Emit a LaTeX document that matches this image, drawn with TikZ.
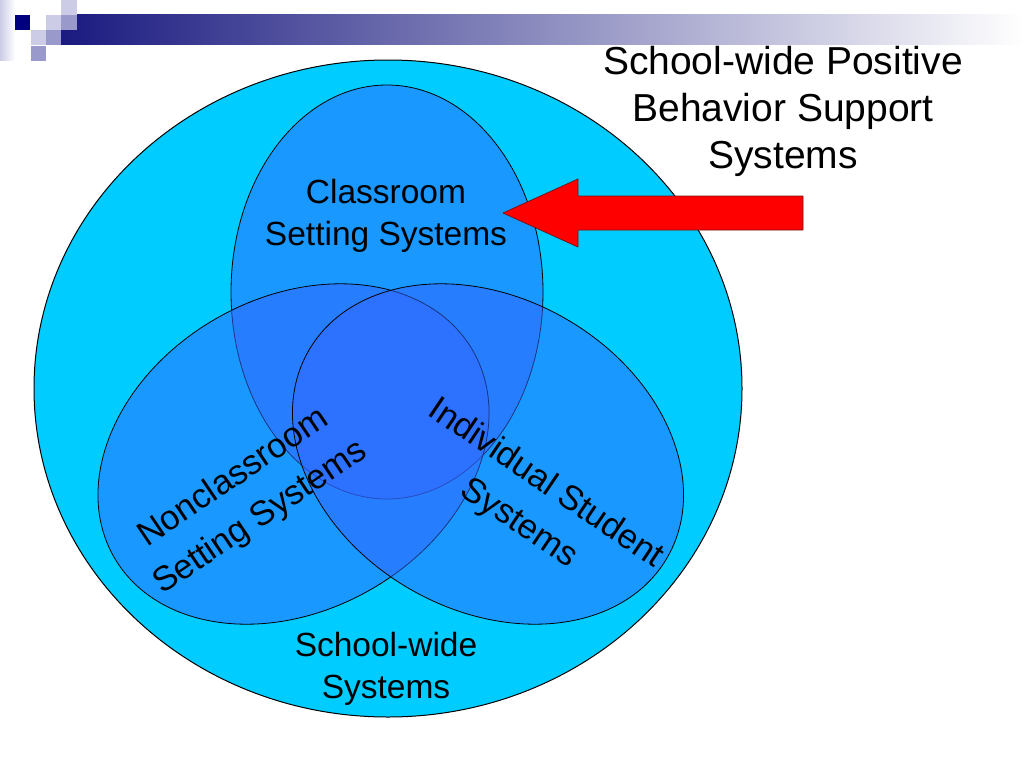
\documentclass[tikz,border=0pt]{standalone}
\usepackage{fontspec}
\setmainfont{Liberation Sans}

\definecolor{schoolcyan}{RGB}{0,204,255}
\definecolor{vennblue}{RGB}{51,102,255}
\definecolor{arrowedge}{RGB}{120,20,20}
\definecolor{tilenavy}{RGB}{0,0,128}
\definecolor{tilemid}{RGB}{153,153,204}
\definecolor{tilelight}{RGB}{204,204,230}
\definecolor{barnavy}{RGB}{26,26,128}

\begin{document}
\begin{tikzpicture}[x=1pt, y=-1pt, line cap=round, line join=round,
    venn/.style={fill=vennblue, fill opacity=0.5, draw=black, line width=0.8pt},
    systext/.style={font=\fontsize{33.5}{42}\selectfont, align=center, inner sep=0pt},
    tilttext/.style={font=\fontsize{34.5}{48}\selectfont, align=center, inner sep=0pt},
    titletext/.style={font=\fontsize{39}{47}\selectfont, align=center, inner sep=0pt}]

\useasboundingbox (0,0) rectangle (1024,768);
\fill[white] (0,0) rectangle (1024,768);

% Header bar and tiles
\shade[left color=barnavy, right color=white] (61,15) rectangle (1024,45);
\shade[left color=tilelight, right color=white] (0,0) rectangle (15,60);
\fill[tilenavy]  (15,15) rectangle ++(15,15);
\fill[tilelight] (31,30) rectangle ++(15,15);
\fill[tilemid]   (31,46) rectangle ++(15,15);
\fill[tilelight] (46,15) rectangle ++(15,15);
\fill[tilemid]   (46,30) rectangle ++(15,15);
\fill[tilelight] (61,0)  rectangle ++(16,15);
\fill[tilemid]   (61,15) rectangle ++(16,15);

% School-wide ------------------------------
\draw[fill=schoolcyan, line width=1pt] (388,388.5) ellipse (354 and 328.5);

% Three overlapping systems
\pgfmathsetmacro{\minorr}{156}
\pgfmathsetmacro{\majorr}{207}

\draw[venn] (387,292) ellipse ({\minorr} and {\majorr});
\draw[venn, rotate around={-60:(293.5,454)}] (293.5,454) ellipse ({\minorr} and {\majorr});
\draw[venn, rotate around={60:(488,454)}] (488,454) ellipse ({\minorr} and {\majorr});

% Labels
\node[systext] (classroom) at (386,216) {Classroom\\Setting Systems};
\node[tilttext, rotate=34] (nonclassroom) at (247,498) {Nonclassroom\\Setting Systems};
\node[tilttext, rotate=-34] (individual) at (532,504) {Individual Student\\Systems};
\node[systext] (schoolwide) at (386,669) {School-wide\\Systems};

% Arrow to classroom -----------------------
\draw[fill=red, draw=arrowedge, line width=0.8pt]
    (503,213) -- (578,179) -- (578,196) -- (803,196)
    -- (803,230) -- (578,230) -- (578,247) -- cycle;

\node[titletext] (swpbs) at (783,111) {School-wide Positive\\Behavior Support\\Systems};

\end{tikzpicture}
\end{document}
